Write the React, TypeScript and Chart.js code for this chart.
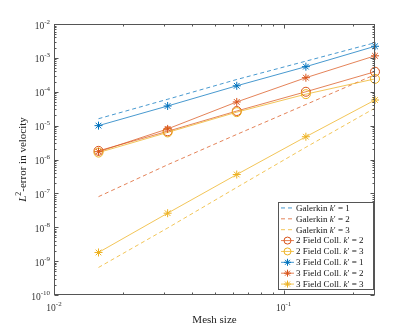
import React, { useEffect, useRef } from 'react';
import { Chart, registerables } from 'chart.js';
Chart.register(...registerables);

const meshSizes = [1 / 64, 1 / 32, 1 / 16, 1 / 8, 1 / 4];

const galerkinK1 = [1.6e-5, 6.0e-5, 2.3e-4, 8.0e-4, 2.8e-3];
const galerkinK2 = [8.0e-8, 7.0e-7, 5.5e-6, 4.2e-5, 3.2e-4];
const galerkinK3 = [6.5e-10, 9.5e-9, 1.5e-7, 2.3e-6, 3.3e-5];
const twoFieldK2 = [1.8e-6, 6.8e-6, 2.7e-5, 1.0e-4, 3.9e-4];
const twoFieldK3 = [1.6e-6, 6.3e-6, 2.5e-5, 8.5e-5, 2.4e-4];
const threeFieldK1 = [1.0e-5, 3.8e-5, 1.5e-4, 5.5e-4, 2.2e-3];
const threeFieldK2 = [1.7e-6, 8.0e-6, 5.0e-5, 2.6e-4, 1.15e-3];
const threeFieldK3 = [1.8e-9, 2.6e-8, 3.6e-7, 4.7e-6, 5.7e-5];

const seriesLabels = [
  'Galerkin k′ = 1',
  'Galerkin k′ = 2',
  'Galerkin k′ = 3',
  '2 Field Coll. k′ = 2',
  '2 Field Coll. k′ = 3',
  '3 Field Coll. k′ = 1',
  '3 Field Coll. k′ = 2',
  '3 Field Coll. k′ = 3',
];

const xDecades = [1e-2, 1e-1];
const xDecadeLabels = ['-2', '-1'];
const yDecades = [1e-10, 1e-9, 1e-8, 1e-7, 1e-6, 1e-5, 1e-4, 1e-3, 1e-2];
const yDecadeLabels = ['-10', '-9', '-8', '-7', '-6', '-5', '-4', '-3', '-2'];

const BLUE = '#0072BD';
const ORANGE = '#D95319';
const YELLOW = '#EDB120';
const BLUE_L = 'rgba(0,114,189,0.72)';
const ORANGE_L = 'rgba(217,83,25,0.72)';
const YELLOW_L = 'rgba(237,177,32,0.75)';
const AXIS = '#555555';
const FONT = '"Liberation Serif", "DejaVu Serif", serif';

type Style = { color: string; line: string; dashed: boolean; marker: 'none' | 'circle' | 'star' };
const styles: Style[] = [
  { color: BLUE, line: BLUE_L, dashed: true, marker: 'none' },
  { color: ORANGE, line: ORANGE_L, dashed: true, marker: 'none' },
  { color: YELLOW, line: YELLOW_L, dashed: true, marker: 'none' },
  { color: ORANGE, line: ORANGE_L, dashed: false, marker: 'circle' },
  { color: YELLOW, line: YELLOW_L, dashed: false, marker: 'circle' },
  { color: BLUE, line: BLUE_L, dashed: false, marker: 'star' },
  { color: ORANGE, line: ORANGE_L, dashed: false, marker: 'star' },
  { color: YELLOW, line: YELLOW_L, dashed: false, marker: 'star' },
];
const seriesValues = [galerkinK1, galerkinK2, galerkinK3, twoFieldK2, twoFieldK3, threeFieldK1, threeFieldK2, threeFieldK3];

function drawStar(ctx: CanvasRenderingContext2D, x: number, y: number, r: number) {
  ctx.beginPath();
  for (let i = 0; i < 4; i++) {
    const a = (i * Math.PI) / 4;
    ctx.moveTo(x - r * Math.cos(a), y - r * Math.sin(a));
    ctx.lineTo(x + r * Math.cos(a), y + r * Math.sin(a));
  }
  ctx.stroke();
}

function drawPow(ctx: CanvasRenderingContext2D, x: number, y: number, exp: string, align: 'right' | 'center') {
  ctx.font = `9.5px ${FONT}`;
  const wb = ctx.measureText('10').width;
  ctx.font = `7px ${FONT}`;
  const we = ctx.measureText(exp).width;
  const total = wb + we;
  const x0 = align === 'right' ? x - total : x - total / 2;
  ctx.textAlign = 'left';
  ctx.textBaseline = 'alphabetic';
  ctx.font = `9.5px ${FONT}`;
  ctx.fillText('10', x0, y + 4.5);
  ctx.font = `7px ${FONT}`;
  ctx.fillText(exp, x0 + wb, y - 0.5);
}

const decorPlugin = {
  id: 'matlabDecor',
  afterDraw(chart: any) {
    const ctx: CanvasRenderingContext2D = chart.ctx;
    const a = chart.chartArea;
    const xs = chart.scales.x;
    const ys = chart.scales.y;
    ctx.save();
    ctx.strokeStyle = AXIS;
    ctx.lineWidth = 1;
    const L = Math.round(a.left) + 0.5;
    const R = Math.round(a.right) - 0.5;
    const T = Math.round(a.top) + 0.5;
    const B = Math.round(a.bottom) - 0.5;
    ctx.strokeRect(L, T, R - L, B - T);

    ctx.beginPath();
    for (const d of xDecades) {
      for (let m = 1; m <= 9; m++) {
        const v = d * m;
        if (v < xs.min - 1e-12 || v > xs.max + 1e-12) continue;
        const px = Math.round(xs.getPixelForValue(v)) + 0.5;
        const len = m === 1 ? 4 : 2;
        ctx.moveTo(px, B); ctx.lineTo(px, B - len);
        ctx.moveTo(px, T); ctx.lineTo(px, T + len);
      }
    }
    for (const d of yDecades) {
      for (let m = 1; m <= 9; m++) {
        const v = d * m;
        if (v > ys.max * 1.0001) continue;
        const py = Math.round(ys.getPixelForValue(v)) + 0.5;
        const len = m === 1 ? 4 : 2;
        ctx.moveTo(L, py); ctx.lineTo(L + len, py);
        ctx.moveTo(R, py); ctx.lineTo(R - len, py);
      }
    }
    ctx.stroke();

    ctx.fillStyle = '#333333';
    yDecades.forEach((d, i) => {
      const py = ys.getPixelForValue(d);
      drawPow(ctx, a.left - 4, py, yDecadeLabels[i], 'right');
    });
    xDecades.forEach((d, i) => {
      const px = xs.getPixelForValue(d);
      drawPow(ctx, px, a.bottom + 11, xDecadeLabels[i], 'center');
    });

    ctx.fillStyle = '#222222';
    ctx.font = `11px ${FONT}`;
    ctx.textAlign = 'center';
    ctx.textBaseline = 'middle';
    ctx.fillText('Mesh size', (a.left + a.right) / 2, a.bottom + 25);

    ctx.save();
    ctx.translate(22, (a.top + a.bottom) / 2);
    ctx.rotate(-Math.PI / 2);
    const p1 = 'L';
    const p2 = '2';
    const p3 = '-error in velocity';
    ctx.font = `italic 11px ${FONT}`;
    const w1 = ctx.measureText(p1).width;
    ctx.font = `8px ${FONT}`;
    const w2 = ctx.measureText(p2).width;
    ctx.font = `11px ${FONT}`;
    const w3 = ctx.measureText(p3).width;
    let cx = -(w1 + w2 + w3) / 2;
    ctx.textAlign = 'left';
    ctx.textBaseline = 'alphabetic';
    ctx.font = `italic 11px ${FONT}`;
    ctx.fillText(p1, cx, 4);
    cx += w1;
    ctx.font = `8px ${FONT}`;
    ctx.fillText(p2, cx, -1);
    cx += w2;
    ctx.font = `11px ${FONT}`;
    ctx.fillText(p3, cx, 4);
    ctx.restore();

    const lx = 278.5, ly = 202.5, lw = 95, lh = 87;
    ctx.fillStyle = '#ffffff';
    ctx.fillRect(lx, ly, lw, lh);
    ctx.strokeStyle = AXIS;
    ctx.strokeRect(lx, ly, lw, lh);
    const rowH = lh / seriesLabels.length;
    seriesLabels.forEach((label, i) => {
      const st = styles[i];
      const cy = ly + rowH * (i + 0.5);
      ctx.strokeStyle = st.line;
      ctx.lineWidth = 1;
      ctx.setLineDash(st.dashed ? [4, 3] : []);
      ctx.beginPath();
      ctx.moveTo(281, cy);
      ctx.lineTo(294, cy);
      ctx.stroke();
      ctx.setLineDash([]);
      ctx.strokeStyle = st.color;
      if (st.marker === 'circle') {
        ctx.beginPath();
        ctx.arc(287.5, cy, 3.5, 0, Math.PI * 2);
        ctx.stroke();
      } else if (st.marker === 'star') {
        drawStar(ctx, 287.5, cy, 3.5);
      }
      const idx = label.indexOf('k′');
      const pre = label.slice(0, idx);
      const post = label.slice(idx + 2);
      ctx.fillStyle = '#111111';
      ctx.textAlign = 'left';
      ctx.textBaseline = 'middle';
      let tx = 296;
      ctx.font = `9px ${FONT}`;
      ctx.fillText(pre, tx, cy + 0.5);
      tx += ctx.measureText(pre).width;
      ctx.font = `italic 9px ${FONT}`;
      ctx.fillText('k', tx, cy + 0.5);
      tx += ctx.measureText('k').width;
      ctx.font = `9px ${FONT}`;
      ctx.fillText('′' + post, tx, cy + 0.5);
    });
    ctx.restore();
  },
};

export default function App() {
  const ref = useRef<HTMLCanvasElement | null>(null);
  useEffect(() => {
    document.body.style.margin = '0';
    const canvas = ref.current;
    if (!canvas) return;
    const datasets = seriesValues.map((vals, i) => {
      const st = styles[i];
      return {
        label: seriesLabels[i],
        data: meshSizes.map((x, j) => ({ x, y: vals[j] })),
        borderColor: st.line,
        backgroundColor: 'rgba(0,0,0,0)',
        borderWidth: 1,
        borderDash: st.dashed ? [4, 3] : [],
        pointStyle: st.marker === 'none' ? false : st.marker === 'circle' ? 'circle' : 'star',
        pointRadius: st.marker === 'none' ? 0 : st.marker === 'circle' ? 4.5 : 4,
        pointBorderColor: st.color,
        pointBackgroundColor: 'rgba(0,0,0,0)',
        pointBorderWidth: 1,
        tension: 0,
        clip: false as any,
        order: seriesValues.length - i,
      };
    });
    const chart = new Chart(canvas, {
      type: 'line',
      data: { datasets: datasets as any },
      options: {
        animation: false,
        responsive: false,
        devicePixelRatio: 1,
        layout: { padding: { top: 24, right: 40, left: 0, bottom: 0 } },
        scales: {
          x: {
            type: 'logarithmic',
            min: 0.01,
            max: 0.25,
            ticks: { display: false },
            grid: { display: false },
            border: { display: false },
            afterFit(s: any) { s.height = 37; },
          },
          y: {
            type: 'logarithmic',
            min: 1e-10,
            max: 1e-2,
            ticks: { display: false },
            grid: { display: false },
            border: { display: false },
            afterFit(s: any) { s.width = 54; },
          },
        },
        plugins: { legend: { display: false }, tooltip: { enabled: false } },
      },
      plugins: [decorPlugin],
    });
    return () => chart.destroy();
  }, []);
  return (
    <canvas
      ref={ref}
      width={415}
      height={332}
      style={{ position: 'fixed', left: 0, top: 0, width: 415, height: 332 }}
    />
  );
}
